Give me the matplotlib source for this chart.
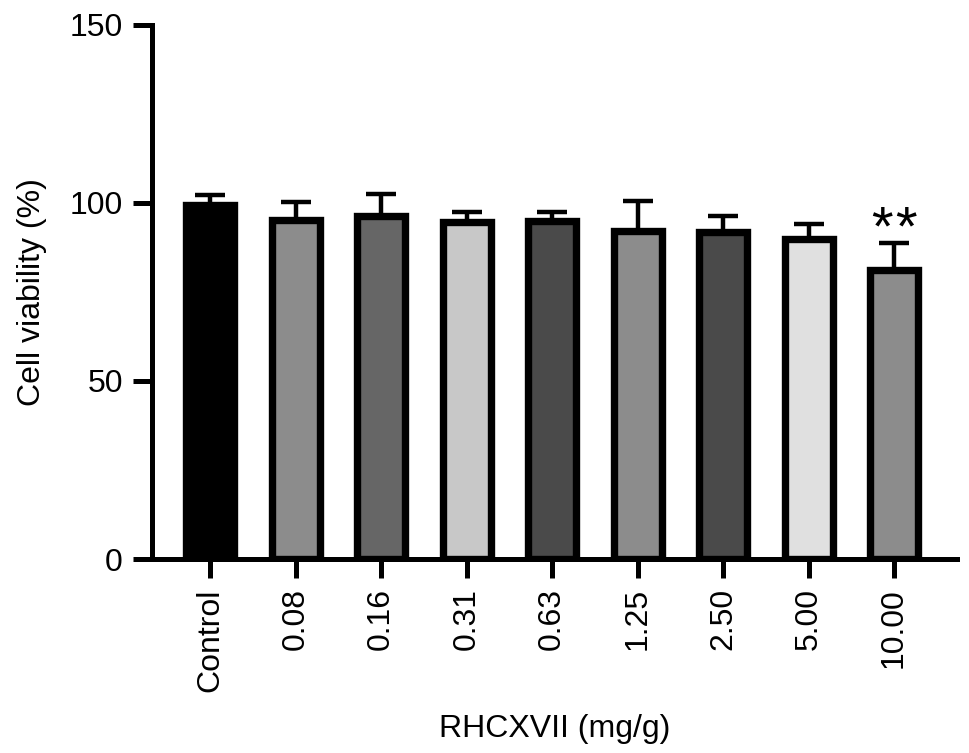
import matplotlib
matplotlib.use("Agg")
import matplotlib.pyplot as plt
import numpy as np

plt.rcParams['font.family'] = ['Liberation Sans', 'DejaVu Sans']

categories = ["Control", "0.08", "0.16", "0.31", "0.63", "1.25", "2.50", "5.00", "10.00"]
means = [99.5, 95.2, 96.3, 94.7, 94.9, 92.1, 91.9, 89.9, 81.2]
errors = [2.7, 5.1, 6.2, 2.8, 2.6, 8.5, 4.4, 4.2, 7.6]
colors = ["#000000", "#8c8c8c", "#666666", "#c8c8c8", "#4a4a4a",
          "#8c8c8c", "#4a4a4a", "#e0e0e0", "#8c8c8c"]
yticks = [0, 50, 100, 150]
sig_index = 8
sig_label = "*"
sig_count = 2

fig = plt.figure(figsize=(9.69, 7.53), dpi=100)
ax = fig.add_axes([0.157, 0.2576, 0.831, 0.7094])

x = np.arange(len(categories))
ax.errorbar(x, means, yerr=[np.zeros(len(errors)), errors], fmt='none',
            ecolor='black', elinewidth=3.2, capsize=10.5, capthick=3.2, zorder=2)
ax.bar(x, means, width=0.56, color=colors, edgecolor='black', linewidth=5.3, zorder=3)

star_y = means[sig_index] + errors[sig_index] - 0.5
for k in range(sig_count):
    off = (k - (sig_count - 1) / 2) * 17.5
    ax.annotate(sig_label, xy=(x[sig_index], star_y), xytext=(off, 0),
                textcoords='offset points', ha='center', va='baseline', fontsize=40)

ax.set_xlim(-0.68, 8.74)
ax.set_ylim(0, 150)
ax.set_yticks(yticks)
ax.set_xticks(x)
ax.set_xticklabels(categories, rotation=90)
for s in ['top', 'right']:
    ax.spines[s].set_visible(False)
for s in ['left', 'bottom']:
    ax.spines[s].set_linewidth(3.6)
ax.spines['bottom'].set_zorder(4)
ax.tick_params(axis='both', direction='out', length=14, width=3.6, labelsize=23, pad=7)
ax.set_ylabel("Cell viability (%)", fontsize=23, labelpad=16)
ax.set_xlabel("RHCXVII (mg/g)", fontsize=23, labelpad=16)

fig.savefig("out.png", dpi=100)
